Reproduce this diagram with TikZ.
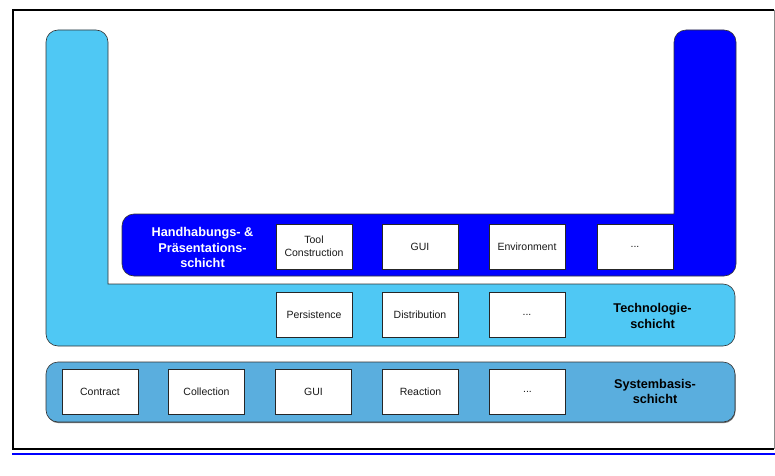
\documentclass[tikz,border=0pt]{standalone}
\usepackage{fontspec}
\setmainfont{Liberation Sans}
\definecolor{lightL}{RGB}{79,200,244}
\definecolor{darkL}{RGB}{0,0,255}
\definecolor{sysL}{RGB}{90,174,222}
\begin{document}
\begin{tikzpicture}[x=1pt,y=1pt,
  layerline/.style={draw=black!80,line width=0.6pt},
  cbox/.style={draw=black!85,fill=white,line width=0.7pt,minimum width=76pt,minimum height=45pt,inner sep=0pt,font=\fontsize{10.5}{13}\selectfont,align=center,text=black!90},
  lab/.style={font=\fontsize{12.7}{15.5}\selectfont\bfseries,align=center,inner sep=0pt}]
\useasboundingbox (0,0) rectangle (775,475);
% frame
\draw[black,line width=1.2pt] (774,465) -- (13,465) -- (13,26) -- (774,26);
\draw[black!45,line width=0.8pt] (774,465) -- (774,26);
\draw[blue,line width=1.2pt] (12,21) -- (775,21);
% technology L (light blue)
\path[fill=lightL,layerline] (46,433) -- (46,141) arc[start angle=180,end angle=270,radius=12]
  -- (723,129) arc[start angle=270,end angle=360,radius=12]
  -- (735,179) arc[start angle=0,end angle=90,radius=12]
  -- (108,191) -- (108,433) arc[start angle=0,end angle=90,radius=12]
  -- (58,445) arc[start angle=90,end angle=180,radius=12] -- cycle;
% presentation L (dark blue)
\path[fill=darkL,layerline] (736,433) -- (736,211) arc[start angle=0,end angle=-90,radius=12]
  -- (134,199) arc[start angle=270,end angle=180,radius=12]
  -- (122,249) arc[start angle=180,end angle=90,radius=12]
  -- (674,261) -- (674,433) arc[start angle=180,end angle=90,radius=12]
  -- (724,445) arc[start angle=90,end angle=0,radius=12] -- cycle;
% system layer
\fill[black!55,rounded corners=12pt] (46.8,51.8) rectangle (735.5,112);
\path[fill=sysL,layerline,rounded corners=12pt] (46,53) rectangle (735,113);
% labels
\node[lab,text=white] (lh) at (202.5,227.5) {Handhabungs- \&\\Präsentations-\\schicht};
\node[lab] (lt) at (652.5,159) {Technologie-\\schicht};
\node[lab] (ls) at (655,83.5) {Systembasis-\\schicht};
% row 1
\node[cbox] (h1) at (314,228.5) {Tool\\Construction};
\node[cbox] (h2) at (420,228.5) {GUI};
\node[cbox] (h3) at (527,228.5) {Environment};
\node[cbox] (h4) at (635,228.5) {...};
% row 2
\node[cbox] (t1) at (314,160) {Persistence};
\node[cbox] (t2) at (420,160) {Distribution};
\node[cbox] (t3) at (527,160) {...};
% row 3
\node[cbox] (s1) at (100,83) {Contract};
\node[cbox] (s2) at (206.5,83) {Collection};
\node[cbox] (s3) at (313.5,83) {GUI};
\node[cbox] (s4) at (420.5,83) {Reaction};
\node[cbox] (s5) at (527.5,83) {...};
\end{tikzpicture}
\end{document}
